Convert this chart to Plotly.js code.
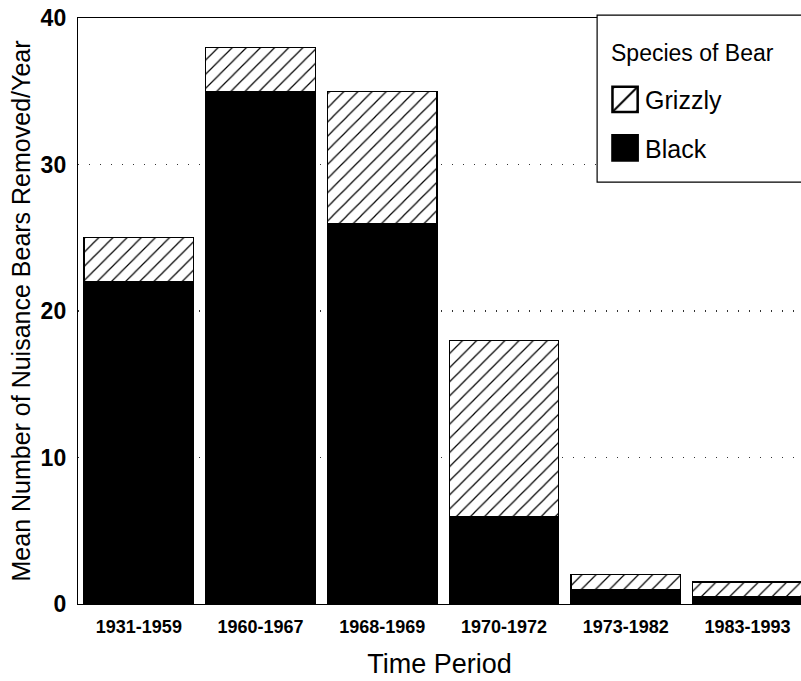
<!DOCTYPE html>
<html>
<head>
<meta charset="utf-8">
<script src="https://cdn.plot.ly/plotly-3.0.1.min.js"></script>
<style>html,body{margin:0;padding:0;background:#fff;}#chart{width:801px;height:681px;}</style>
</head>
<body>
<div id="chart"></div>
<script>
const periods = ["1931-1959", "1960-1967", "1968-1969", "1970-1972", "1973-1982", "1983-1993"];
const blackBears = [22, 35, 26, 6, 1, 0.5];
const grizzlyBears = [3, 3, 9, 12, 1, 1];
const yTicks = [0, 10, 20, 30, 40];
const legendTitle = "Species of Bear";

const FONT = "Liberation Sans, Arial, Helvetica, sans-serif";

const traces = [
  {
    type: "bar", name: "Black", x: periods, y: blackBears,
    legendgroup: "b", legendrank: 2,
    marker: {color: "#000", line: {color: "#000", width: 1.2}},
    hoverinfo: "x+y"
  },
  {
    type: "bar", name: "Grizzly", x: periods, y: grizzlyBears,
    legendgroup: "g", legendrank: 1,
    marker: {
      color: "#fff",
      line: {color: "#000", width: 1.2},
      pattern: {shape: "/", fgcolor: "#000", bgcolor: "#fff", size: 10, solidity: 0.12}
    },
    hoverinfo: "x+y"
  }
];

const layout = {
  width: 801, height: 681,
  margin: {l: 78, r: 0, t: 18, b: 77},
  paper_bgcolor: "#fff", plot_bgcolor: "#fff",
  barmode: "stack", bargap: 0.1,
  font: {family: FONT, color: "#000"},
  showlegend: true,
  legend: {
    x: 0.729, xanchor: "left", y: 0.9, yanchor: "top",
    bgcolor: "rgba(0,0,0,0)", borderwidth: 0,
    traceorder: "grouped", tracegroupgap: 13,
    font: {size: 25, family: FONT}
  },
  xaxis: {
    type: "category", range: [-0.5, 5.44],
    showline: true, linecolor: "#000", linewidth: 1.2, mirror: true,
    ticks: "", showgrid: false, zeroline: false,
    ticklabelstandoff: 6,
    tickfont: {size: 18, family: FONT, weight: "bold"},
    title: {text: "Time Period", font: {size: 27, family: FONT}, standoff: 18}
  },
  yaxis: {
    range: [0, 40], tickvals: yTicks, ticktext: yTicks.map(String),
    showline: true, linecolor: "#000", linewidth: 1.2,
    ticks: "", zeroline: false,
    showgrid: true, gridcolor: "#333", gridwidth: 1.3, griddash: "1.3px,9.7px",
    ticklabelstandoff: 6,
    tickfont: {size: 23, family: FONT, weight: "bold"},
    title: {text: "Mean Number of Nuisance Bears Removed/Year", font: {size: 25, family: FONT}, standoff: 2}
  },
  shapes: [
    {type: "rect", xref: "paper", yref: "paper",
     x0: 0.718, x1: 1.05, y0: 0.72, y1: 1.005,
     line: {color: "#000", width: 1.2}, fillcolor: "#fff", layer: "above"}
  ],
  annotations: [
    {xref: "paper", yref: "paper", x: 0.735, y: 0.941, xanchor: "left", yanchor: "middle",
     text: legendTitle, showarrow: false, font: {size: 23, family: FONT}}
  ]
};

Plotly.newPlot("chart", traces, layout, {displayModeBar: false, staticPlot: true}).then(function (gd) {
  // enlarge the legend swatches to match the reference key boxes
  gd.querySelectorAll(".legend .legendpoints path").forEach(function (p) {
    const t = p.getAttribute("transform") || "";
    p.setAttribute("transform", t + " scale(2.1)");
  });
});
</script>
</body>
</html>
